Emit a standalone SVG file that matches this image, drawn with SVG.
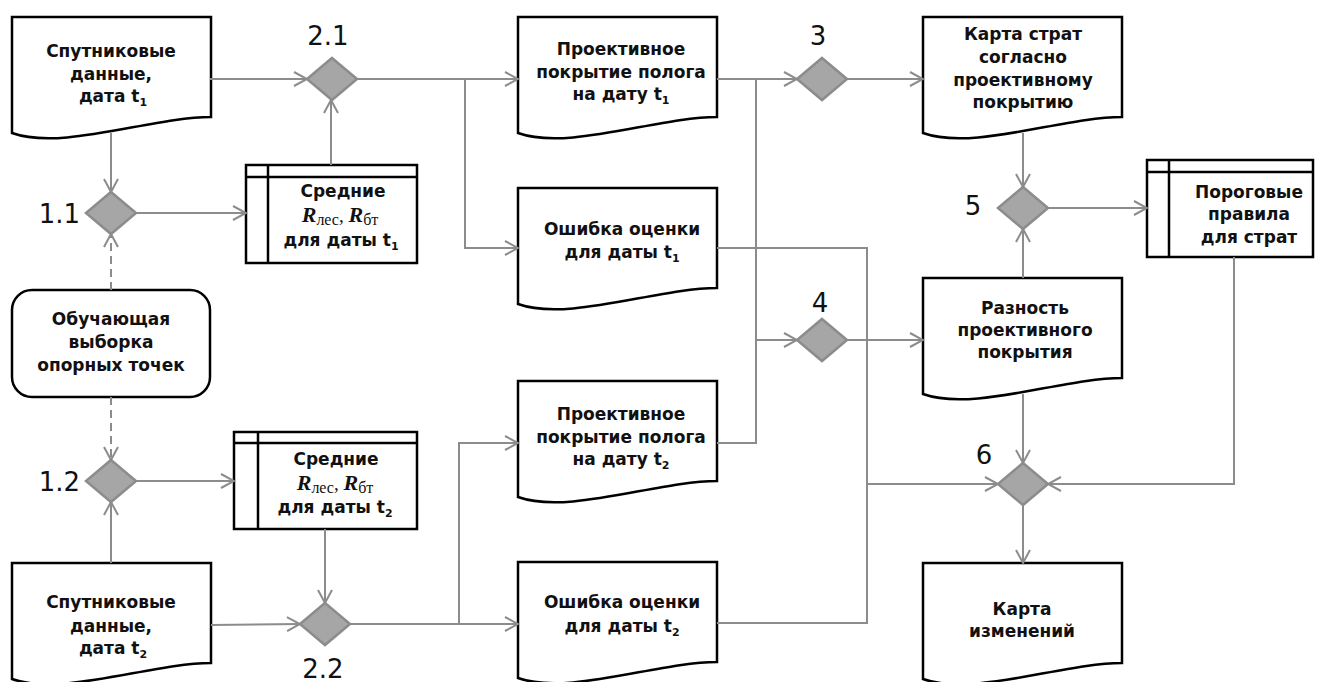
<svg xmlns="http://www.w3.org/2000/svg" xmlns:xlink="http://www.w3.org/1999/xlink" width="1317" height="682" viewBox="0 0 1317 682">
<style>
.conn{fill:none;stroke:#8c8c8c;stroke-width:2}
.dash{stroke-dasharray:8 5}
.shape{fill:#fff;stroke:#000;stroke-width:2.5}
.inner{fill:none;stroke:#000;stroke-width:2.5}
.dia{fill:#a6a6a6;stroke:#8c8c8c;stroke-width:2.5}
.t{font-family:"DejaVu Sans",Verdana,sans-serif;font-weight:bold;font-size:17px;text-anchor:middle;fill:#111}
.lbl{font-family:"DejaVu Sans",Verdana,sans-serif;font-size:26px;fill:#111}
.sb{font-size:11px}
.ri{font-family:"Liberation Serif","DejaVu Serif",serif;font-weight:bold;font-style:italic;font-size:22px}
.rs{font-family:"Liberation Serif","DejaVu Serif",serif;font-weight:normal;font-size:16px}
.rc{font-family:"Liberation Serif","DejaVu Serif",serif;font-weight:normal;font-size:19px}
</style>
<defs>
<path id="doc" d="M0,0 H199 V100 C140,100 50,134 0,116 Z"/>
<path id="dia" d="M0,-21 L25,0 L0,21 L-25,0 Z"/>
<marker id="arr" markerUnits="userSpaceOnUse" viewBox="-14 -9 16 18" refX="0" refY="0" markerWidth="16" markerHeight="18" orient="auto">
<path d="M-13,-7 L0,0 L-13,7" fill="none" stroke="#8c8c8c" stroke-width="2"/>
</marker>
</defs>
<rect width="1317" height="682" fill="#fff"/>

<g id="sat1">
<use href="#doc" x="12" y="17" class="shape"/>
<text class="t" x="111" y="57">Спутниковые</text>
<text class="t" x="111" y="80">данные,</text>
<text class="t" x="113" y="102">дата t<tspan class="sb" dy="4">1</tspan></text>
</g>
<g id="train">
<rect x="12" y="290" width="198" height="107" rx="20" class="shape"/>
<text class="t" x="111" y="325">Обучающая</text>
<text class="t" x="111" y="348">выборка</text>
<text class="t" x="111" y="371">опорных точек</text>
</g>
<g id="sat2">
<use href="#doc" x="12" y="563" class="shape"/>
<text class="t" x="111" y="608">Спутниковые</text>
<text class="t" x="111" y="632">данные,</text>
<text class="t" x="113" y="654">дата t<tspan class="sb" dy="4">2</tspan></text>
</g>
<g id="tab1">
<rect x="246" y="165" width="171" height="98" class="shape"/>
<path class="inner" d="M246,177 H417 M268,165 V263"/>
<text class="t" x="343" y="197">Средние</text>
<text class="t" x="340" y="222"><tspan class="ri">R</tspan><tspan class="rs" dy="3">лес</tspan><tspan class="rc" dy="-3">, </tspan><tspan class="ri">R</tspan><tspan class="rs" dy="3">бт</tspan></text>
<text class="t" x="341" y="246">для даты t<tspan class="sb" dy="4">1</tspan></text>
</g>
<g id="tab2">
<rect x="234" y="432" width="183" height="97" class="shape"/>
<path class="inner" d="M234,443 H417 M258,432 V529"/>
<text class="t" x="336" y="465">Средние</text>
<text class="t" x="335" y="490"><tspan class="ri">R</tspan><tspan class="rs" dy="3">лес</tspan><tspan class="rc" dy="-3">, </tspan><tspan class="ri">R</tspan><tspan class="rs" dy="3">бт</tspan></text>
<text class="t" x="335" y="513">для даты t<tspan class="sb" dy="4">2</tspan></text>
</g>
<g id="proj1">
<use href="#doc" x="518" y="17" class="shape"/>
<text class="t" x="621" y="55">Проективное</text>
<text class="t" x="621" y="78">покрытие полога</text>
<text class="t" x="621" y="100">на дату t<tspan class="sb" dy="4">1</tspan></text>
</g>
<g id="err1">
<use href="#doc" x="518" y="188" class="shape"/>
<text class="t" x="622" y="235">Ошибка оценки</text>
<text class="t" x="622" y="258">для даты t<tspan class="sb" dy="4">1</tspan></text>
</g>
<g id="proj2">
<use href="#doc" x="518" y="381" class="shape"/>
<text class="t" x="621" y="420">Проективное</text>
<text class="t" x="621" y="443">покрытие полога</text>
<text class="t" x="621" y="465">на дату t<tspan class="sb" dy="4">2</tspan></text>
</g>
<g id="err2">
<use href="#doc" x="518" y="562" class="shape"/>
<text class="t" x="622" y="608">Ошибка оценки</text>
<text class="t" x="622" y="632">для даты t<tspan class="sb" dy="4">2</tspan></text>
</g>
<g id="strat">
<use href="#doc" x="923" y="17" class="shape"/>
<text class="t" x="1023" y="40">Карта страт</text>
<text class="t" x="1023" y="63">согласно</text>
<text class="t" x="1023" y="86">проективному</text>
<text class="t" x="1023" y="108">покрытию</text>
</g>
<g id="porog">
<rect x="1147" y="160" width="166" height="97" class="shape"/>
<path class="inner" d="M1147,172 H1313 M1169,160 V257"/>
<text class="t" x="1249" y="198">Пороговые</text>
<text class="t" x="1249" y="220">правила</text>
<text class="t" x="1249" y="243">для страт</text>
</g>
<g id="razn">
<use href="#doc" x="923" y="278" class="shape"/>
<text class="t" x="1025" y="314">Разность</text>
<text class="t" x="1025" y="336">проективного</text>
<text class="t" x="1025" y="358">покрытия</text>
</g>
<g id="change">
<use href="#doc" x="923" y="563" class="shape"/>
<text class="t" x="1022" y="615">Карта</text>
<text class="t" x="1022" y="637">изменений</text>
</g>

<g id="d11"><use href="#dia" x="111" y="213" class="dia"/><text class="lbl" x="80" y="223" text-anchor="end">1.1</text></g>
<g id="d21"><use href="#dia" x="332" y="79" class="dia"/><text class="lbl" x="328" y="45" text-anchor="middle">2.1</text></g>
<g id="d12"><use href="#dia" x="111" y="481" class="dia"/><text class="lbl" x="80" y="491" text-anchor="end">1.2</text></g>
<g id="d22"><use href="#dia" x="325" y="624" class="dia"/><text class="lbl" x="323" y="678" text-anchor="middle">2.2</text></g>
<g id="d3"><use href="#dia" x="822" y="79" class="dia"/><text class="lbl" x="818" y="45" text-anchor="middle">3</text></g>
<g id="d4"><use href="#dia" x="822" y="340" class="dia"/><text class="lbl" x="820" y="312" text-anchor="middle">4</text></g>
<g id="d5"><use href="#dia" x="1023" y="208" class="dia"/><text class="lbl" x="973" y="215" text-anchor="middle">5</text></g>
<g id="d6"><use href="#dia" x="1023" y="484" class="dia"/><text class="lbl" x="984" y="464" text-anchor="middle">6</text></g>

<g id="connectors">
<path class="conn" d="M210,79 H307" marker-end="url(#arr)"/>
<path class="conn" d="M357,79 H518" marker-end="url(#arr)"/>
<path class="conn" d="M465,79 V248 H518" marker-end="url(#arr)"/>
<path class="conn" d="M111,133 V192" marker-end="url(#arr)"/>
<path class="conn" d="M136,213 H246" marker-end="url(#arr)"/>
<path class="conn" d="M331,165 V100" marker-end="url(#arr)"/>
<path class="conn dash" d="M111,290 V234" marker-end="url(#arr)"/>
<path class="conn dash" d="M111,397 V460" marker-end="url(#arr)"/>
<path class="conn" d="M111,563 V502" marker-end="url(#arr)"/>
<path class="conn" d="M136,481 H234" marker-end="url(#arr)"/>
<path class="conn" d="M325,529 V603" marker-end="url(#arr)"/>
<path class="conn" d="M211,625 L300,624" marker-end="url(#arr)"/>
<path class="conn" d="M350,624 H518" marker-end="url(#arr)"/>
<path class="conn" d="M459,624 V443 H518" marker-end="url(#arr)"/>
<path class="conn" d="M717,79 H797" marker-end="url(#arr)"/>
<path class="conn" d="M756,79 V443 H717"/>
<path class="conn" d="M756,340 H797" marker-end="url(#arr)"/>
<path class="conn" d="M847,79 H923" marker-end="url(#arr)"/>
<path class="conn" d="M1023,133 V187" marker-end="url(#arr)"/>
<path class="conn" d="M1023,278 V229" marker-end="url(#arr)"/>
<path class="conn" d="M1048,208 H1147" marker-end="url(#arr)"/>
<path class="conn" d="M847,340 H923" marker-end="url(#arr)"/>
<path class="conn" d="M717,248 H867 V484 H998" marker-end="url(#arr)"/>
<path class="conn" d="M717,623 H867 V484"/>
<path class="conn" d="M1023,394 V463" marker-end="url(#arr)"/>
<path class="conn" d="M1234,257 V484 H1048" marker-end="url(#arr)"/>
<path class="conn" d="M1023,505 V563" marker-end="url(#arr)"/>
</g>
</svg>
